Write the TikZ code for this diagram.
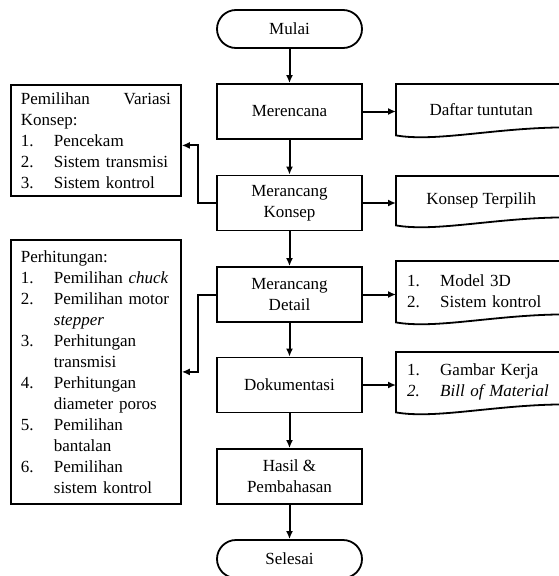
\documentclass[tikz,border=0pt]{standalone}
\usepackage{fontspec}
\setmainfont{Liberation Serif}
\usepackage{tikz}
\usetikzlibrary{arrows.meta}
\usetikzlibrary{positioning}
\tikzset{proc/.style = {draw, line width=1.8pt, minimum width=145pt, minimum height=55pt,
                        align=center, inner sep=2pt}}
\tikzset{term/.style = {draw, line width=1.8pt, rounded corners=19pt, minimum width=145pt,
                        minimum height=38pt}}
\tikzset{listbox/.style = {draw, line width=1.8pt, align=left, text width=150pt,
                           inner xsep=10pt, anchor=north west}}
\tikzset{docbox/.style = {minimum width=170pt, anchor=north west, inner xsep=11pt}}
\tikzset{flow/.style = {line width=2pt, -{Latex[length=8pt,width=7pt]}}}
\newcommand{\num}[1]{\makebox[33pt][l]{#1}}

\begin{document}
\begin{tikzpicture}[x=1pt, y=-1pt, font=\fontsize{17}{21}\selectfont]
      \useasboundingbox (0,0) rectangle (558,576);
      % main column
      \node [term] (mulai) at (289.5, 29) {Mulai};
      \node [proc] (rencana) at (289.5, 111.5) {Merencana};
      \node [proc] (konsep) at (289.5, 203) {Merancang\\Konsep};
      \node [proc] (detail) at (289.5, 294.5) {Merancang\\Detail};
      \node [proc] (dokumen) at (289.5, 385) {Dokumentasi};
      \node [proc] (hasil) at (289.5, 476.5) {Hasil \&\\Pembahasan};
      \node [term] (selesai) at (289.5, 559) {Selesai};

      % left lists
      \node [listbox, minimum height=111pt] (pilihan) at (10, 84)
        {\hbox to 150pt{Pemilihan\hfill Variasi}\\Konsep:\\
         \num{1.}Pencekam\\\num{2.}Sistem transmisi\\\num{3.}Sistem kontrol};
      \node [listbox, minimum height=264pt] (hitung) at (10, 239)
        {Perhitungan:\\
         \num{1.}Pemilihan \textit{chuck}\\
         \num{2.}Pemilihan motor\\\num{}\textit{stepper}\\
         \num{3.}Perhitungan\\\num{}transmisi\\
         \num{4.}Perhitungan\\\num{}diameter poros\\
         \num{5.}Pemilihan\\\num{}bantalan\\
         \num{6.}Pemilihan\\\num{}sistem kontrol};

      % right documents
      \node [docbox, minimum height=51pt] (daftar) at (396, 84) {Daftar tuntutan};
      \node [docbox, minimum height=49pt] (terpilih) at (396, 176) {Konsep Terpilih};
      \node [docbox, minimum height=61pt, text width=148pt, align=left] (model) at (396, 261)
        {\num{1.}Model 3D\\\num{2.}Sistem kontrol};
      \node [docbox, minimum height=60pt, text width=148pt, align=left] (gambar) at (396, 352)
        {\num{1.}Gambar Kerja\\\textit{\num{2.}Bill of Material}};
      \foreach \n in {daftar, terpilih, model, gambar}
        \draw [line width=1.8pt] (\n.north east) -- (\n.north west) -- (\n.south west)
          .. controls +(40,7) and +(-70,0) .. ([yshift=8pt]\n.south east);

      % connectors
      \draw [flow] (mulai) -- (rencana);
      \draw [flow] (rencana) -- (konsep);
      \draw [flow] (konsep) -- (detail);
      \draw [flow] (detail) -- (dokumen);
      \draw [flow] (dokumen) -- (hasil);
      \draw [flow] (hasil) -- (selesai);
      \draw [flow] (rencana.east) -- (rencana.east -| daftar.west);
      \draw [flow] (konsep.east) -- (konsep.east -| terpilih.west);
      \draw [flow] (detail.east) -- (detail.east -| model.west);
      \draw [flow] (dokumen.east) -- (dokumen.east -| gambar.west);
      \draw [flow] (konsep.west) -- ++(-18,0) |- ([yshift=-5pt]pilihan.east);
      \draw [flow] (detail.west) -- ++(-18,0) |- (hitung.east);
    \end{tikzpicture}
\end{document}
